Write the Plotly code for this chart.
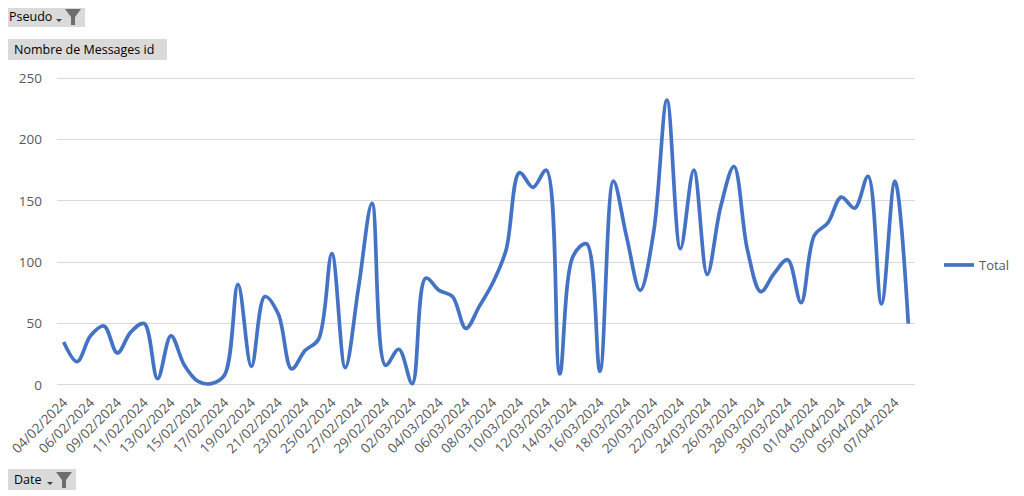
import plotly.graph_objects as go

# messages per day (pivot chart "Nombre de Messages id" by Date)
dates = [
    "04/02/2024", "05/02/2024", "06/02/2024", "07/02/2024", "09/02/2024",
    "10/02/2024", "11/02/2024", "12/02/2024", "13/02/2024", "14/02/2024",
    "15/02/2024", "16/02/2024", "17/02/2024", "18/02/2024", "19/02/2024",
    "20/02/2024", "21/02/2024", "22/02/2024", "23/02/2024", "24/02/2024",
    "25/02/2024", "26/02/2024", "27/02/2024", "28/02/2024", "29/02/2024",
    "01/03/2024", "02/03/2024", "03/03/2024", "04/03/2024", "05/03/2024",
    "06/03/2024", "07/03/2024", "08/03/2024", "09/03/2024", "10/03/2024",
    "11/03/2024", "12/03/2024", "13/03/2024", "14/03/2024", "15/03/2024",
    "16/03/2024", "17/03/2024", "18/03/2024", "19/03/2024", "20/03/2024",
    "21/03/2024", "22/03/2024", "23/03/2024", "24/03/2024", "25/03/2024",
    "26/03/2024", "27/03/2024", "28/03/2024", "29/03/2024", "30/03/2024",
    "31/03/2024", "01/04/2024", "02/04/2024", "03/04/2024", "04/04/2024",
    "05/04/2024", "06/04/2024", "07/04/2024", "08/04/2024",
]

total = [
    35, 19, 40, 48, 26, 43, 50, 5, 40, 16,
    3, 1, 8, 82, 15, 72, 58, 13, 28, 37,
    107, 14, 80, 148, 16, 29, 1, 87, 77, 72,
    46, 64, 83, 110, 173, 161, 175, 9, 105, 115,
    11, 166, 120, 77, 124, 232, 111, 175, 90, 145,
    178, 110, 76, 91, 102, 67, 122, 132, 153, 144,
    170, 66, 166, 50,
]

y_ticks = [0, 50, 100, 150, 200, 250]

# only every other date is labelled on the axis
shown_dates = dates[::2]

BLUE = "#4472C4"
GREY_TXT = "#595959"

# the page body has an 8px margin, so the figure is drawn 8px in and down
OFF = 8
PAGE_W, PAGE_H = 1024, 496
W, H = PAGE_W - OFF, PAGE_H - OFF

# plot area in page pixels
L, R, T, B = 57, 915, 72, 391


def px_x(p):
    return (p - L) / (R - L)


def px_y(p):
    return (B - p) / (B - T)


fig = go.Figure()
fig.add_trace(go.Scatter(
    x=list(range(len(dates))),
    y=total,
    mode="lines",
    name="Total",
    line=dict(color=BLUE, width=3.7, shape="spline", smoothing=1.0),
    text=dates,
    hovertemplate="%{text}<br>%{y}<extra>Total</extra>",
))

fig.update_layout(
    width=W, height=H,
    margin=dict(l=L - OFF, r=PAGE_W - R, t=T - OFF, b=PAGE_H - B, autoexpand=False),
    paper_bgcolor="white",
    plot_bgcolor="white",
    font=dict(family="Open Sans", color=GREY_TXT, size=12),
    showlegend=True,
    legend=dict(x=px_x(939), y=px_y(265), xanchor="left", yanchor="middle",
                font=dict(size=13, color=GREY_TXT), bgcolor="rgba(0,0,0,0)"),
)

fig.update_xaxes(
    range=[-0.5, len(dates) - 0.5],
    tickmode="array",
    tickvals=list(range(0, len(dates), 2)),
    ticktext=shown_dates,
    tickangle=-45,
    ticklabeloverflow="allow",
    automargin=False,
    showgrid=False, zeroline=False, showline=False,
    ticks="", tickfont=dict(size=13.5, color=GREY_TXT),
)

fig.update_yaxes(
    range=[-5, 255],
    tickmode="array",
    tickvals=y_ticks,
    automargin=False,
    showgrid=True, gridcolor="#d9d9d9", gridwidth=1,
    zeroline=False, showline=False, ticks="",
    ticklabelstandoff=14,
    tickfont=dict(size=13.5, color=GREY_TXT),
)

# pivot field buttons (page pixels)
buttons = [
    ("Pseudo", 3, 6, 85, 27, True),
    ("Nombre de Messages id", 8, 39, 167, 60, False),
    ("Date", 8, 469, 76, 490, True),
]
shapes = []
annotations = []
for label, x0, y0, x1, y1, has_filter in buttons:
    shapes.append(dict(type="rect", xref="paper", yref="paper",
                       x0=px_x(x0), x1=px_x(x1), y0=px_y(y1), y1=px_y(y0),
                       fillcolor="#dadada", line=dict(width=0), layer="above"))
    annotations.append(dict(text=label, xref="paper", yref="paper",
                            x=px_x(x0 + 4), y=px_y((y0 + y1) / 2),
                            xanchor="left", yanchor="middle", showarrow=False,
                            font=dict(size=12.5, color="#000000")))
    if has_filter:
        fx = x1 - 20
        cy = y0 + 3
        # funnel icon
        path = "M {} {} L {} {} L {} {} L {} {} L {} {} L {} {} Z".format(
            px_x(fx), px_y(cy), px_x(fx + 16), px_y(cy),
            px_x(fx + 10), px_y(cy + 8), px_x(fx + 10), px_y(cy + 16),
            px_x(fx + 6), px_y(cy + 16), px_x(fx + 6), px_y(cy + 8))
        shapes.append(dict(type="path", xref="paper", yref="paper", path=path,
                           fillcolor="#6d6d6d", line=dict(width=0), layer="above"))
        # small dropdown arrow
        ax = fx - 6
        ay = cy + 10
        tri = "M {} {} L {} {} L {} {} Z".format(
            px_x(ax - 3), px_y(ay), px_x(ax + 3), px_y(ay),
            px_x(ax), px_y(ay + 3))
        shapes.append(dict(type="path", xref="paper", yref="paper", path=tri,
                           fillcolor="#404040", line=dict(width=0), layer="above"))

fig.update_layout(shapes=shapes, annotations=annotations)

fig.write_html("out.html")
